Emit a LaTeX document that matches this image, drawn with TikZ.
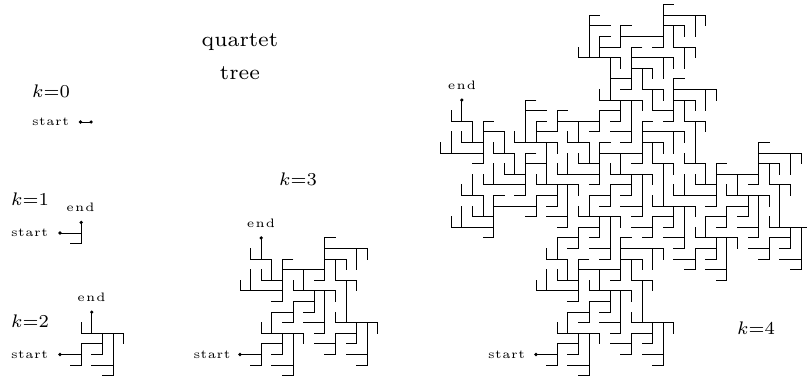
\documentclass[tikz,border=0pt]{standalone}
\newcommand\qtcall[5]{\edef\qtmp{\noexpand\qtree{\the\numexpr#1\relax}{\the\numexpr#2\relax}{\the\numexpr#3\relax}{\the\numexpr#4\relax}{\the\numexpr#5\relax}}\qtmp}
\newcommand\qtree[5]{%
  \ifnum#1=0
    \draw[treeline] (#2,#3) -- ++(#4,#5);
  \else
    \begingroup
    \edef\qL{\the\numexpr#1-1\relax}%
    \edef\qex{\the\numexpr(2*(#4)+(#5))/5\relax}%
    \edef\qey{\the\numexpr(2*(#5)-(#4))/5\relax}%
    \edef\qbx{\the\numexpr#2+2*\qex\relax}%
    \edef\qby{\the\numexpr#3+2*\qey\relax}%
    \qtcall{\qL}{#2}{#3}{\qex}{\qey}%
    \qtcall{\qL}{#2+\qex}{#3+\qey}{\qex}{\qey}%
    \qtcall{\qL}{\qbx-\qey}{\qby+\qex}{\qey}{-\qex}%
    \qtcall{\qL}{\qbx+\qey}{\qby-\qex}{-\qey}{\qex}%
    \qtcall{\qL}{\qbx+\qey-\qex}{\qby-\qex-\qey}{\qex}{\qey}%
    \endgroup
  \fi}
\newcommand\qstartword{s\kern.2pt t\kern.2pt a\kern.2pt r\kern.2pt t}
\newcommand\qendword{e\kern.5pt n\kern.5pt d}
\tikzset{
  treeline/.style={line width=0.85pt,line cap=rect,black},
  dotmark/.style={circle,fill=black,inner sep=0pt,minimum size=3.6pt},
  smalltext/.style={inner sep=0pt,scale=2.45,font=\fontsize{5}{6}\selectfont},
  ktext/.style={inner sep=0pt,scale=2.6,font=\fontsize{7}{8.5}\selectfont},
  titletext/.style={inner sep=0pt,scale=3,font=\fontsize{7}{8.5}\selectfont}
}
\begin{document}
\begin{tikzpicture}[x=1pt,y=-1pt]
\useasboundingbox (0,0) rectangle (807,378);
\node[titletext] (t1) at (240,42) {quartet};
\node[titletext] (t2) at (240,73) {tree};
\node[ktext] (k0) at (51,91) {$k{=}0$};
\node[ktext] (k1) at (30,199) {$k{=}1$};
\node[ktext] (k2) at (30,321) {$k{=}2$};
\node[ktext] (k3) at (298,179) {$k{=}3$};
\node[ktext] (k4) at (756,328) {$k{=}4$};
% k=0
\node[smalltext] (s0) at (50.5,122) {\qstartword};
\begin{scope}[shift={(80.5,122)},x=10.6pt,y=10.6pt]
 \qtree{0}{0}{0}{1}{0}
 \node[dotmark] (a0) at (0,0) {}; \node[dotmark] (b0) at (1,0) {};
\end{scope}
% k=1
\node[smalltext] (s1) at (29.5,233) {\qstartword};
\node[smalltext] (e1) at (80.5,207) {\qendword};
\begin{scope}[shift={(60,233)},x=10.6pt,y=10.6pt]
 \qtree{1}{0}{0}{2}{1}
 \node[dotmark] (a1) at (0,0) {}; \node[dotmark] (b1) at (2,1) {};
\end{scope}
% k=2
\node[smalltext] (s2) at (29.5,354.5) {\qstartword};
\node[smalltext] (e2) at (91.5,297) {\qendword};
\begin{scope}[shift={(60,354.5)},x=10.6pt,y=10.6pt]
 \qtree{2}{0}{0}{3}{4}
 \node[dotmark] (a2) at (0,0) {}; \node[dotmark] (b2) at (3,4) {};
\end{scope}
% k=3
\node[smalltext] (s3) at (212,354.5) {\qstartword};
\node[smalltext] (e3) at (261,223) {\qendword};
\begin{scope}[shift={(240,354.5)},x=10.6pt,y=10.6pt]
 \qtree{3}{0}{0}{2}{11}
 \node[dotmark] (a3) at (0,0) {}; \node[dotmark] (b3) at (2,11) {};
\end{scope}
% k=4
\node[smalltext] (s4) at (506.5,354.5) {\qstartword};
\node[smalltext] (e4) at (462,85) {\qendword};
\begin{scope}[shift={(536,354.5)},x=10.6pt,y=10.6pt]
 \qtree{4}{0}{0}{-7}{24}
 \node[dotmark] (a4) at (0,0) {}; \node[dotmark] (b4) at (-7,24) {};
\end{scope}
\end{tikzpicture}
\end{document}
